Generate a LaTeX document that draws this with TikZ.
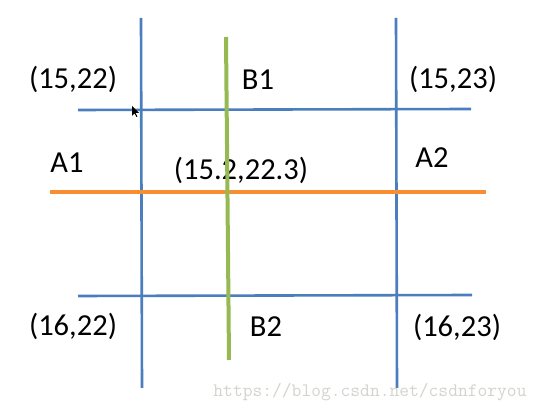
\documentclass[tikz,border=0pt]{standalone}
\usepackage{fontspec}
\setmainfont{Carlito}
\definecolor{gblue}{RGB}{74,126,190}
\definecolor{gorange}{RGB}{247,142,52}
\definecolor{ggreen}{RGB}{150,185,84}
\definecolor{wmgray}{RGB}{212,212,206}
\begin{document}
\begin{tikzpicture}[x=1pt,y=-1pt,
  lbl/.style={anchor=base,inner sep=0pt,font=\fontsize{30.5}{34}\selectfont},
  bline/.style={draw=gblue,line width=2.6pt},
  oline/.style={draw=gorange,line width=3.8pt},
  gline/.style={draw=ggreen,line width=4pt}]
\useasboundingbox (0,0) rectangle (541,411);
\fill[white] (0,0) rectangle (541,411);
% coordinates
\coordinate (v1t) at (141,18);  \coordinate (v1b) at (142,388);
\coordinate (v2t) at (396,18);  \coordinate (v2b) at (397,388);
\coordinate (h1l) at (78,110);  \coordinate (h1r) at (471,109);
\coordinate (h2l) at (78,296);  \coordinate (h2r) at (472,295);
\coordinate (ol) at (50,192);   \coordinate (or) at (486,192);
\coordinate (gt) at (226,37);   \coordinate (gb) at (229,360);
% lines
\draw[bline] (h1l) -- (h1r);
\draw[bline] (h2l) -- (h2r);
\draw[bline] (v1t) -- (v1b);
\draw[bline] (v2t) -- (v2b);
\draw[oline] (ol) -- (or);
% labels
\node[lbl] (p1) at (73,89) {(15,22)};
\node[lbl] (b1) at (258,90) {B1};
\node[lbl] (p2) at (453,89) {(15,23)};
\node[lbl] (a1) at (67,173) {A1};
\node[lbl] (pm) at (241,180) {(15.2,22.3)};
\node[lbl] (a2) at (432,168) {A2};
\node[lbl] (p3) at (73,336) {(16,22)};
\node[lbl] (b2) at (266,337) {B2};
\node[lbl] (p4) at (457,337) {(16,23)};
\draw[gline] (gt) -- (gb);
% watermark
\node[anchor=base,inner sep=0pt,text=wmgray,font=\ttfamily\fontsize{19}{20}\selectfont] (wm) at (370,397) {https://blog.csdn.net/csdnforyou};
% cursor
\fill[black] (132,106) -- (132,116) -- (134.5,113.5) -- (136.5,117) -- (137.5,116.5) -- (135.5,113) -- (139,113) -- cycle;
\end{tikzpicture}
\end{document}
